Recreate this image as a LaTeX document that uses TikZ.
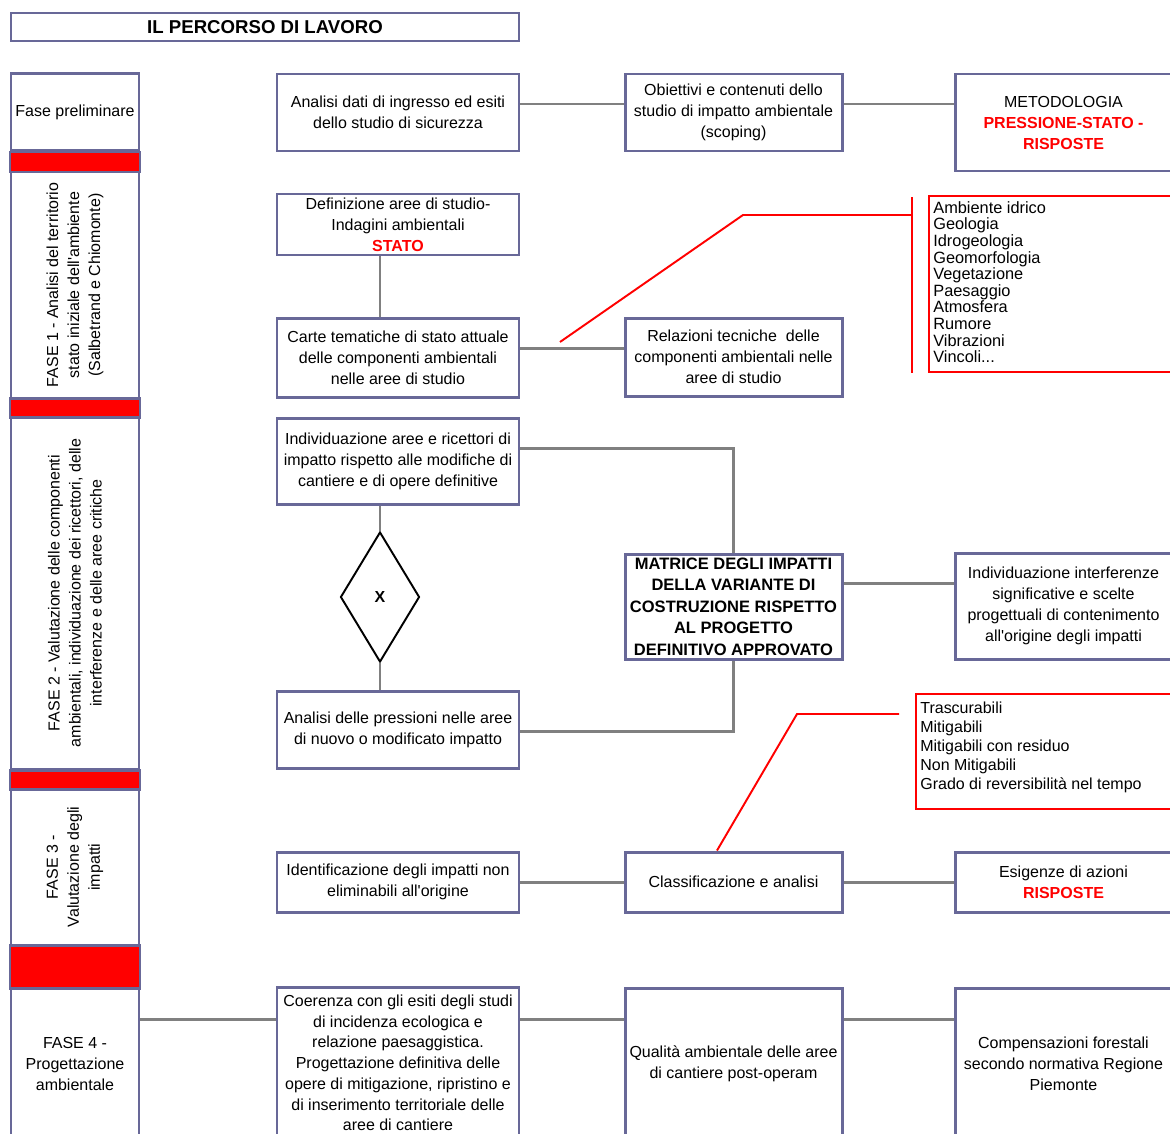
\documentclass[tikz,border=0pt]{standalone}
\usepackage{fontspec}
\setmainfont{Liberation Sans}
\usetikzlibrary{shapes.geometric}
\definecolor{bordo}{RGB}{104,104,152}
\definecolor{linea}{RGB}{128,128,128}
\tikzset{
  box/.style 2 args={draw=bordo, line width=1.7pt, fill=white, inner sep=0pt,
    minimum width=#1*0.02cm, minimum height=#2*0.02cm, align=center,
    font=\fontsize{9.1}{11.95}\selectfont},
  band/.style={draw=bordo, line width=1.7pt, fill=red},
  link/.style={draw=linea, line width=1.7pt},
  redlink/.style={draw=red, line width=1.1pt},
  listtext/.style={anchor=north west, inner sep=0pt, align=left}
}
\begin{document}
\begin{tikzpicture}[x=0.02cm, y=-0.02cm]
  \useasboundingbox (0,0) rectangle (1170,1133);
  \clip (0,0) rectangle (1170,1133);
  % titolo
  \node[box={508}{28}, font=\fontsize{10.6}{12}\selectfont\bfseries] (titolo) at (265,27) {IL PERCORSO DI LAVORO};
  % colonna delle fasi
  \node[box={128}{77}] (prelim) at (75,112) {Fase preliminare};
  \node[box={226}{128}, rotate=90] (fase1) at (75,285) {FASE 1 - Analisi del territorio\\stato iniziale dell\textquotesingle ambiente\\(Salbetrand e Chiomonte)};
  \node[box={353}{128}, rotate=90] (fase2) at (75,593) {FASE 2 - Valutazione delle componenti\\ambientali, individuazione dei ricettori, delle\\interferenze e delle aree critiche};
  \node[box={156}{128}, rotate=90] (fase3) at (75,867) {FASE 3 -\\Valutazione degli\\impatti};
  \node[box={128}{152}] (fase4) at (75,1064) {FASE 4 -\\Progettazione\\ambientale};
  \foreach \a/\b in {152/172, 398/417, 770/789, 945/988}{
    \draw[band] (10,\a) rectangle (140,\b);
  }
  % riga 0
  \node[box={242}{77}] (analisi) at (398,112.5) {Analisi dati di ingresso ed esiti\\dello studio di sicurezza};
  \node[box={217}{77}] (obiettivi) at (733.5,112.5) {Obiettivi e contenuti dello\\studio di impatto ambientale\\(scoping)};
  \node[box={217}{97}] (metodo) at (1063.5,122.5) {METODOLOGIA\\\textcolor{red}{\bfseries PRESSIONE-STATO -}\\\textcolor{red}{\bfseries RISPOSTE}};
  \draw[link] (analisi.east |- 0,104) -- (obiettivi.west |- 0,104);
  \draw[link] (obiettivi.east |- 0,104) -- (metodo.west |- 0,104);
  % riga 1
  \node[box={242}{61}] (definiz) at (398,224.5) {Definizione aree di studio-\\Indagini ambientali\\\textcolor{red}{\bfseries STATO}};
  \node[box={242}{79}] (carte) at (398,357.5) {Carte tematiche di stato attuale\\delle componenti ambientali\\nelle aree di studio};
  \node[box={217}{78}] (relaz) at (733.5,357) {Relazioni tecniche\ \ delle\\componenti ambientali nelle\\aree di studio};
  \draw[link] (definiz.south -| 380,0) -- (carte.north -| 380,0);
  \draw[link] (carte.east |- 0,348) -- (relaz.west |- 0,348);
  \draw[red, line width=1.1pt] (929,196) rectangle (1190,372);
  \node[listtext, font=\fontsize{9.3}{9.45}\selectfont] (lista1) at (933,201) {Ambiente idrico\\Geologia\\Idrogeologia\\Geomorfologia\\Vegetazione\\Paesaggio\\Atmosfera\\Rumore\\Vibrazioni\\Vincoli...};
  \coordinate (r1) at (560,342);
  \coordinate (r2) at (743,215);
  \coordinate (r3) at (912,215);
  \draw[redlink] (r1) -- (r2) -- (r3);
  \draw[redlink] (912,197) -- (912,373);
  % riga 2
  \node[box={242}{86}] (individ) at (398,461) {Individuazione aree e ricettori di\\impatto rispetto alle modifiche di\\cantiere e di opere definitive};
  \node[draw, diamond, line width=1.1pt, inner sep=0pt, minimum width=79*0.02cm, minimum height=130*0.02cm, font=\fontsize{9.1}{11}\selectfont\bfseries] (scelta) at (380,597) {X};
  \node[box={242}{77}] (pressioni) at (398,729.5) {Analisi delle pressioni nelle aree\\di nuovo o modificato impatto};
  \node[box={217}{105}, font=\fontsize{9.4}{12.2}\selectfont\bfseries] (matrice) at (733.5,606.5) {MATRICE DEGLI IMPATTI\\DELLA VARIANTE DI\\COSTRUZIONE RISPETTO\\AL PROGETTO\\DEFINITIVO APPROVATO};
  \node[box={217}{106}] (interf) at (1063.5,606) {Individuazione interferenze\\significative e scelte\\progettuali di contenimento\\all\textquotesingle origine degli impatti};
  \draw[link] (individ.south -| scelta.north) -- (scelta.north);
  \draw[link] (scelta.south) -- (pressioni.north -| scelta.south);
  \draw[link] (individ.east |- 0,448) -| (matrice.north);
  \draw[link] (pressioni.east |- 0,731) -| (matrice.south);
  \draw[link] (matrice.east |- 0,583) -- (interf.west |- 0,583);
  % riga 3
  \draw[red, line width=1.1pt] (916,694) rectangle (1190,809);
  \node[listtext, font=\fontsize{9.1}{10.8}\selectfont] (lista2) at (920,702) {Trascurabili\\Mitigabili\\Mitigabili con residuo\\Non Mitigabili\\Grado di reversibilità nel tempo};
  \node[box={242}{60}] (identif) at (398,882) {Identificazione degli impatti non\\eliminabili all\textquotesingle origine};
  \node[box={217}{60}] (classif) at (733.5,882) {Classificazione e analisi};
  \node[box={217}{60}] (esigenze) at (1063.5,882) {Esigenze di azioni\\\textcolor{red}{\bfseries RISPOSTE}};
  \draw[link] (identif) -- (classif);
  \draw[link] (classif) -- (esigenze);
  \coordinate (r4) at (797,714);
  \coordinate (r5) at (899,714);
  \draw[redlink] (classif.north -| 717,0) -- (r4) -- (r5);
  % riga 4
  \node[box={242}{152}, font=\fontsize{9.1}{11.8}\selectfont] (coerenza) at (398,1063) {Coerenza con gli esiti degli studi\\di incidenza ecologica e\\relazione paesaggistica.\\Progettazione definitiva delle\\opere di mitigazione, ripristino e\\di inserimento territoriale delle\\aree di cantiere};
  \node[box={217}{152}] (qualita) at (733.5,1064) {Qualità ambientale delle aree\\di cantiere post-operam};
  \node[box={217}{152}] (compens) at (1063.5,1064) {Compensazioni forestali\\secondo normativa Regione\\Piemonte};
  \draw[link] (fase4.east |- 0,1019) -- (coerenza.west |- 0,1019);
  \draw[link] (coerenza.east |- 0,1019) -- (qualita.west |- 0,1019);
  \draw[link] (qualita.east |- 0,1019) -- (compens.west |- 0,1019);
\end{tikzpicture}
\end{document}
